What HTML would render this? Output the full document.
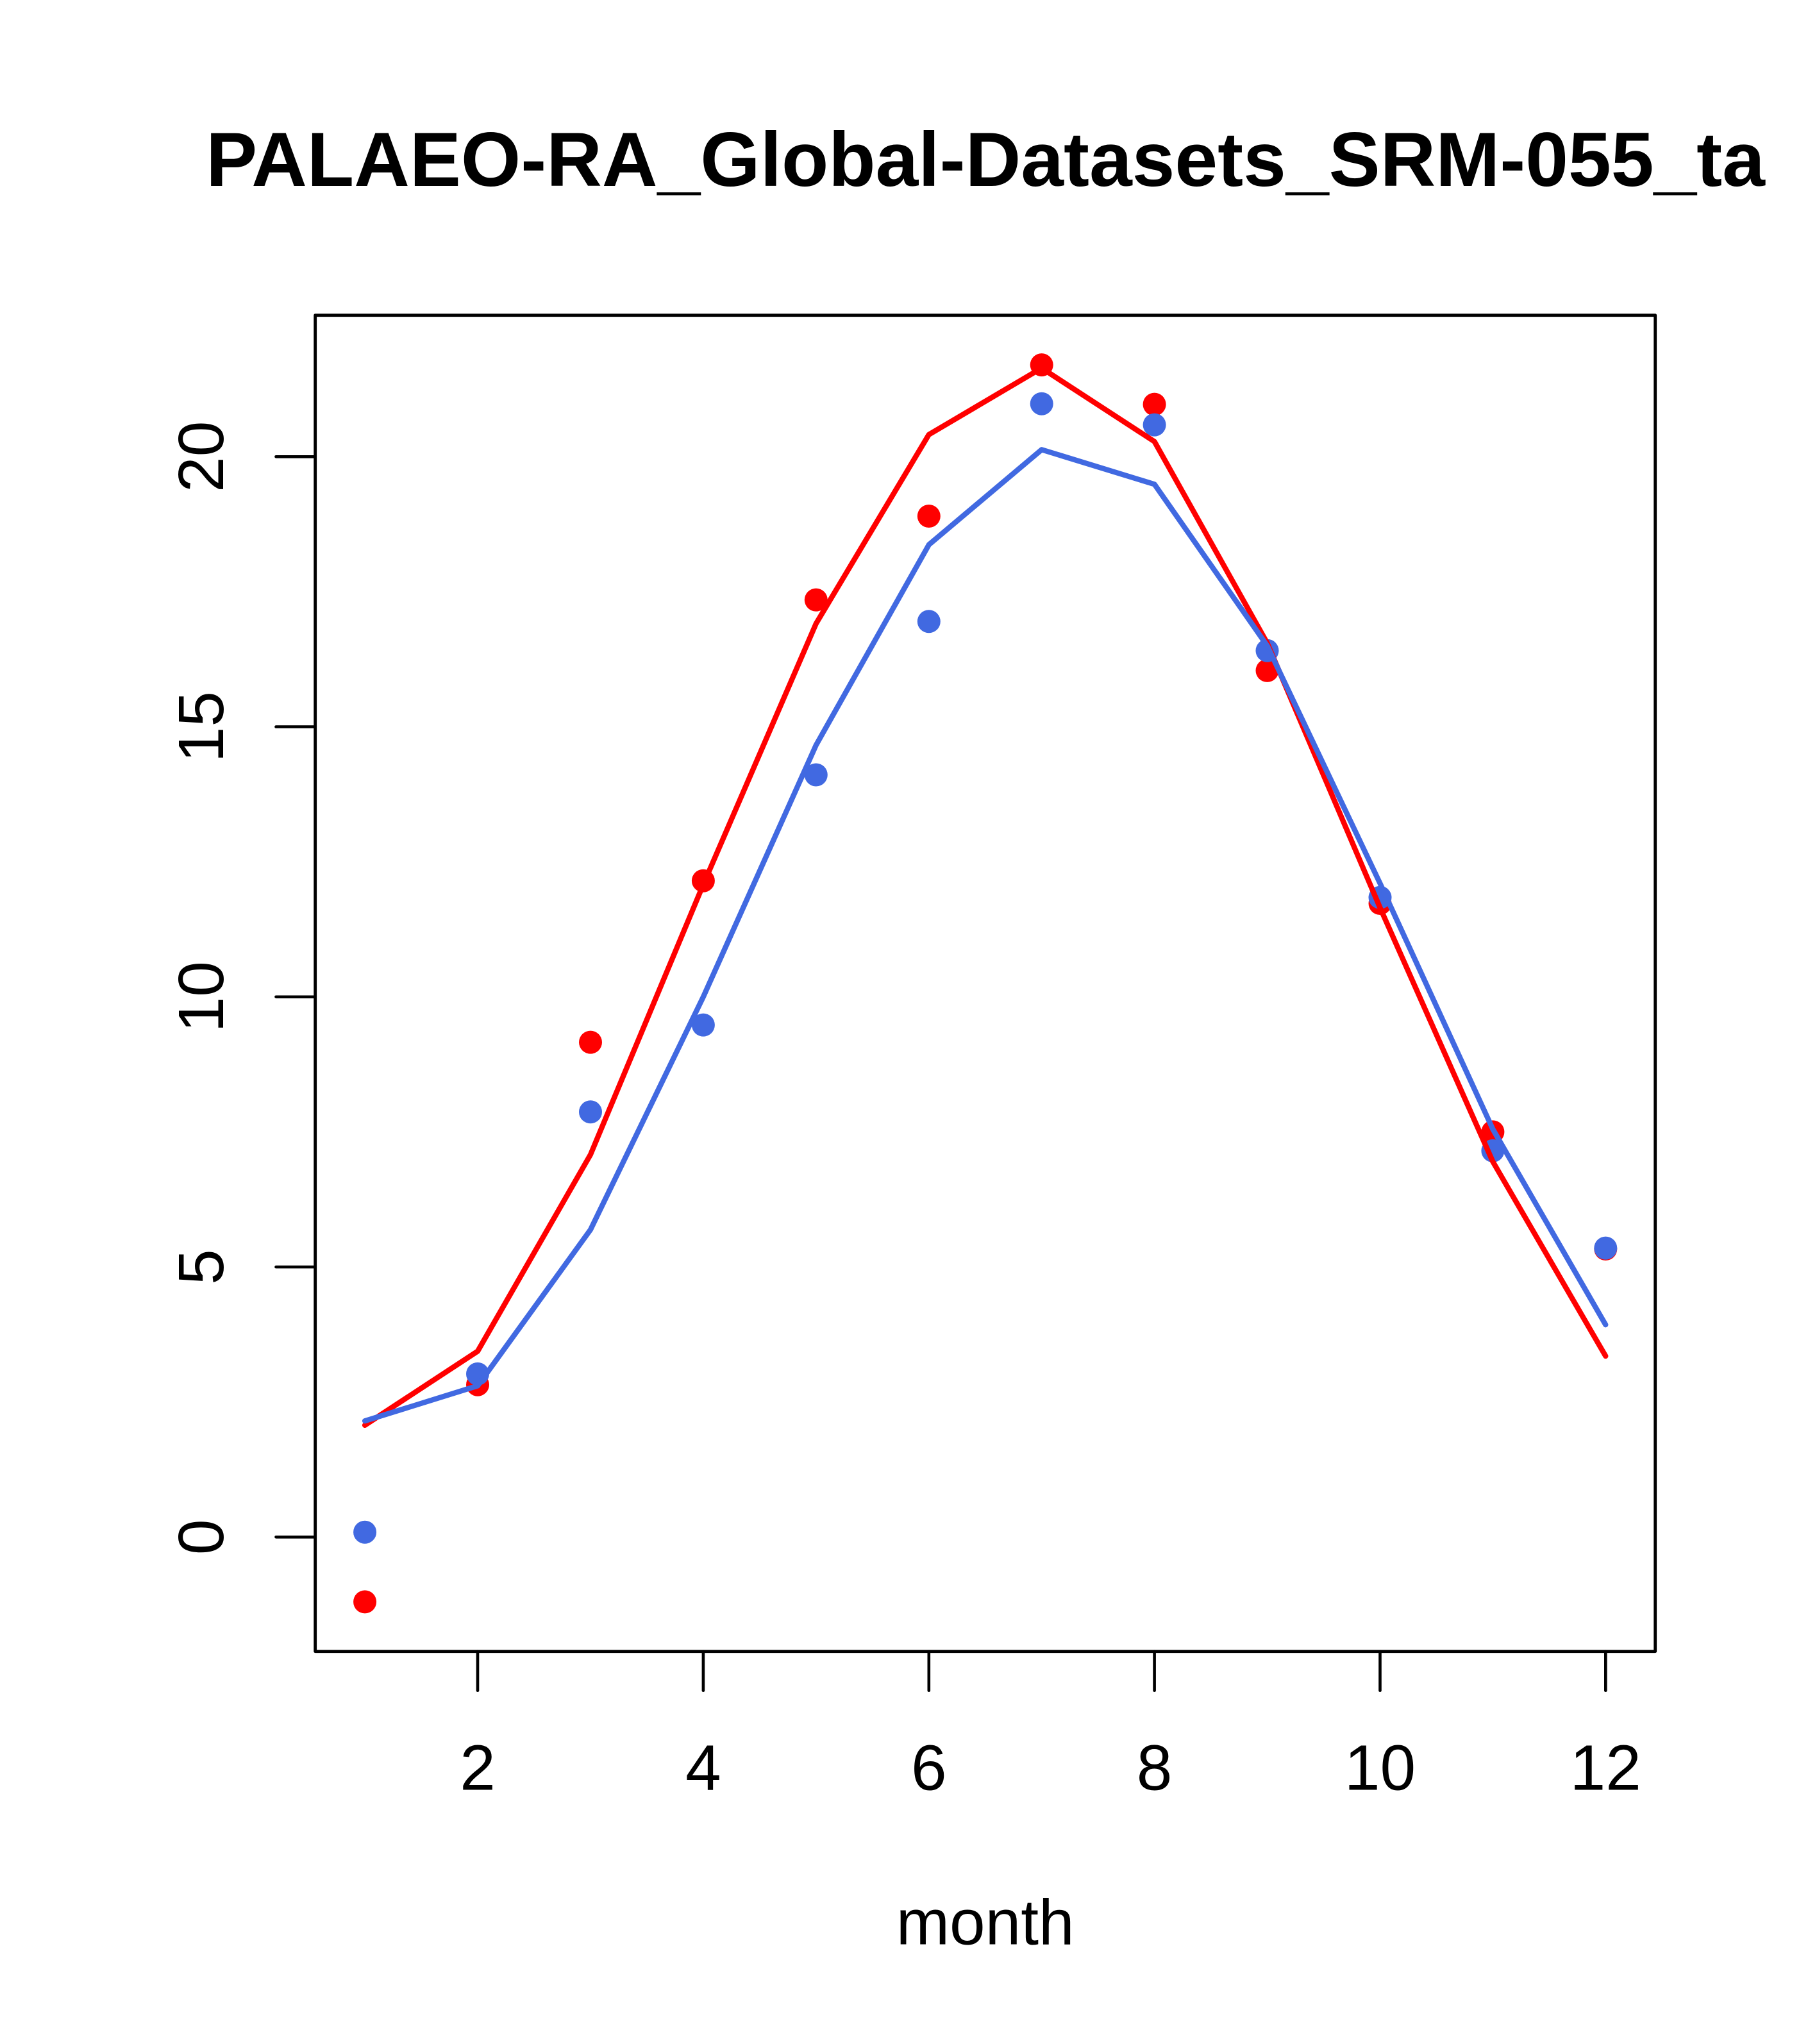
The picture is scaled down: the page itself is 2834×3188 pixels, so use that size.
<!DOCTYPE html>
<html>
<head>
<meta charset="utf-8">
<style>
  html, body { margin: 0; padding: 0; background: #ffffff; }
  svg { display: block; }
  text { font-family: "Liberation Sans", Arial, sans-serif; fill: #000; }
</style>
</head>
<body>
<svg width="2834" height="3188" viewBox="0 0 2834 3188" xmlns="http://www.w3.org/2000/svg">
  <rect x="0" y="0" width="2834" height="3188" fill="#ffffff"/>

  <!-- Title -->
  <text x="1537" y="290" font-size="120" font-weight="bold" text-anchor="middle">PALAEO-RA_Global-Datasets_SRM-055_ta</text>

  <!-- Plot box -->
  <rect x="491.7" y="491.7" width="2090" height="2084" fill="none" stroke="#000" stroke-width="4.8" stroke-linejoin="round"/>

  <!-- Y ticks -->
  <g stroke="#000" stroke-width="4.6" stroke-linecap="round">
    <line x1="430.5" y1="2397.3" x2="491.7" y2="2397.3"/>
    <line x1="430.5" y1="1976.1" x2="491.7" y2="1976.1"/>
    <line x1="430.5" y1="1554.8" x2="491.7" y2="1554.8"/>
    <line x1="430.5" y1="1133.6" x2="491.7" y2="1133.6"/>
    <line x1="430.5" y1="712.3" x2="491.7" y2="712.3"/>
  </g>
  <!-- Y tick labels -->
  <g font-size="100" text-anchor="middle">
    <text transform="translate(348,2397.3) rotate(-90)">0</text>
    <text transform="translate(348,1976.1) rotate(-90)">5</text>
    <text transform="translate(348,1554.8) rotate(-90)">10</text>
    <text transform="translate(348,1133.6) rotate(-90)">15</text>
    <text transform="translate(348,712.3) rotate(-90)">20</text>
  </g>

  <!-- X ticks -->
  <g stroke="#000" stroke-width="4.6" stroke-linecap="round">
    <line x1="745.0" y1="2575.7" x2="745.0" y2="2636.7"/>
    <line x1="1096.9" y1="2575.7" x2="1096.9" y2="2636.7"/>
    <line x1="1448.8" y1="2575.7" x2="1448.8" y2="2636.7"/>
    <line x1="1800.6" y1="2575.7" x2="1800.6" y2="2636.7"/>
    <line x1="2152.5" y1="2575.7" x2="2152.5" y2="2636.7"/>
    <line x1="2504.3" y1="2575.7" x2="2504.3" y2="2636.7"/>
  </g>
  <!-- X tick labels -->
  <g font-size="100" text-anchor="middle">
    <text x="745.0" y="2791.7">2</text>
    <text x="1096.9" y="2791.7">4</text>
    <text x="1448.8" y="2791.7">6</text>
    <text x="1800.6" y="2791.7">8</text>
    <text x="2152.5" y="2791.7">10</text>
    <text x="2504.3" y="2791.7">12</text>
  </g>

  <!-- X axis label -->
  <text x="1536.7" y="3032.3" font-size="100" text-anchor="middle">month</text>

  <!-- Red points -->
  <g fill="#ff0000">
    <circle cx="569.1" cy="2498.4" r="18"/>
    <circle cx="745.0" cy="2159.7" r="18"/>
    <circle cx="921.0" cy="1625.6" r="18"/>
    <circle cx="1096.9" cy="1373.7" r="18"/>
    <circle cx="1272.8" cy="935.6" r="18"/>
    <circle cx="1448.8" cy="805.0" r="18"/>
    <circle cx="1624.7" cy="569.1" r="18"/>
    <circle cx="1800.6" cy="630.6" r="18"/>
    <circle cx="1976.5" cy="1045.9" r="18"/>
    <circle cx="2152.5" cy="1409.0" r="18"/>
    <circle cx="2328.4" cy="1765.4" r="18"/>
    <circle cx="2504.3" cy="1948.0" r="18"/>
  </g>

  <!-- Blue points -->
  <g fill="#4169e1">
    <circle cx="569.1" cy="2389.7" r="18"/>
    <circle cx="745.0" cy="2142.9" r="18"/>
    <circle cx="921.0" cy="1734.3" r="18"/>
    <circle cx="1096.9" cy="1598.6" r="18"/>
    <circle cx="1272.8" cy="1208.5" r="18"/>
    <circle cx="1448.8" cy="969.3" r="18"/>
    <circle cx="1624.7" cy="629.7" r="18"/>
    <circle cx="1800.6" cy="662.6" r="18"/>
    <circle cx="1976.5" cy="1014.8" r="18"/>
    <circle cx="2152.5" cy="1399.8" r="18"/>
    <circle cx="2328.4" cy="1794.9" r="18"/>
    <circle cx="2504.3" cy="1946.6" r="18"/>
  </g>

  <!-- Red line -->
  <polyline fill="none" stroke="#ff0000" stroke-width="8.3" stroke-linecap="round" stroke-linejoin="round"
    points="569.1,2222.9 745.0,2107.5 921.0,1800.8 1096.9,1379.6 1272.8,972.6 1448.8,677.8 1624.7,574.1 1800.6,688.7 1976.5,1003.0 2152.5,1415.8 2328.4,1811.8 2504.3,2115.1"/>

  <!-- Blue line -->
  <polyline fill="none" stroke="#4169e1" stroke-width="8.3" stroke-linecap="round" stroke-linejoin="round"
    points="569.1,2216.2 745.0,2161.4 921.0,1917.9 1096.9,1554.8 1272.8,1162.2 1448.8,849.6 1624.7,701.3 1800.6,755.3 1976.5,1007.2 2152.5,1377.9 2328.4,1761.2 2504.3,2066.2"/>
</svg>
</body>
</html>
